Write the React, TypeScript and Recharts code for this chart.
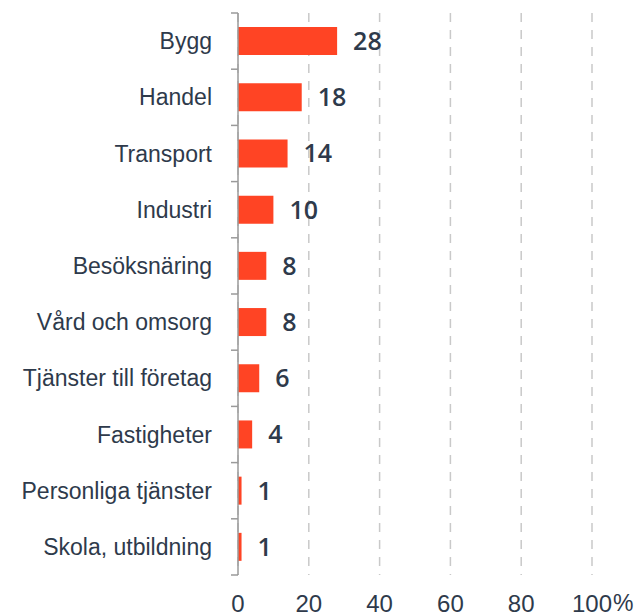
import { Bar, BarChart, CartesianGrid, LabelList, XAxis, YAxis } from "recharts";

const categories = [
  "Bygg",
  "Handel",
  "Transport",
  "Industri",
  "Besöksnäring",
  "Vård och omsorg",
  "Tjänster till företag",
  "Fastigheter",
  "Personliga tjänster",
  "Skola, utbildning",
];
const shares = [28, 18, 14, 10, 8, 8, 6, 4, 1, 1];
const xTicks = [0, 20, 40, 60, 80, 100];

const data = categories.map((name, i) => ({ name, value: shares[i] }));

const textColor = "#2e3a4b";
const axisColor = "#9a9a9a";

function XTick(props: any) {
  const { x, y, payload } = props;
  const v = payload.value as number;
  return (
    <g>
      <text
        x={x}
        y={y}
        dy="0.71em"
        textAnchor="middle"
        fill={textColor}
        fontSize={24}
        fontFamily="Liberation Sans, Arial, sans-serif"
      >
        {v}
      </text>
      {v === 100 ? (
        <text
          x={x + 21}
          y={y}
          dy="0.71em"
          textAnchor="start"
          fill={textColor}
          fontSize={23}
          fontFamily="Liberation Sans, Arial, sans-serif"
        >
          %
        </text>
      ) : null}
    </g>
  );
}

// category label plus the small tick marks that sit on the band boundaries
function YTick(props: any) {
  const { x, y, payload, index, visibleTicksCount, height } = props;
  const band = height / visibleTicksCount;
  const axisX = x + 26;
  return (
    <g>
      <line x1={axisX - 7} x2={axisX} y1={y - band / 2} y2={y - band / 2} stroke={axisColor} strokeWidth={1.5} />
      {index === visibleTicksCount - 1 ? (
        <line x1={axisX - 7} x2={axisX} y1={y + band / 2} y2={y + band / 2} stroke={axisColor} strokeWidth={1.5} />
      ) : null}
      <text
        x={x}
        y={y}
        dy="0.355em"
        textAnchor="end"
        fill={textColor}
        fontSize={23}
        fontFamily="Liberation Sans, Arial, sans-serif"
      >
        {payload.value}
      </text>
    </g>
  );
}

export default function App() {
  return (
    <div style={{ position: "absolute", left: 0, top: 0, width: 634, height: 616, background: "#fff" }}>
      <BarChart
        width={634}
        height={616}
        data={data}
        layout="vertical"
        margin={{ top: 13, right: 42, bottom: 11, left: 0 }}
        barCategoryGap="25%"
      >
        <CartesianGrid
          horizontal={false}
          stroke="#c9c9c9"
          strokeWidth={1.5}
          strokeDasharray="9 8"
        />
        <XAxis
          type="number"
          domain={[0, 100]}
          ticks={xTicks}
          height={30}
          axisLine={false}
          tickLine={false}
          tickMargin={14}
          tick={<XTick />}
          interval={0}
        />
        <YAxis
          type="category"
          dataKey="name"
          width={238}
          axisLine={{ stroke: axisColor, strokeWidth: 1.5 }}
          tickLine={false}
          tickMargin={20}
          interval={0}
          tick={<YTick />}
        />
        <Bar dataKey="value" fill="#ff4424" isAnimationActive={false}>
          <LabelList
            dataKey="value"
            position="right"
            offset={16}
            fill={textColor}
            fontSize={25}
            fontWeight={600}
            fontFamily="Open Sans, sans-serif"
          />
        </Bar>
      </BarChart>
    </div>
  );
}
